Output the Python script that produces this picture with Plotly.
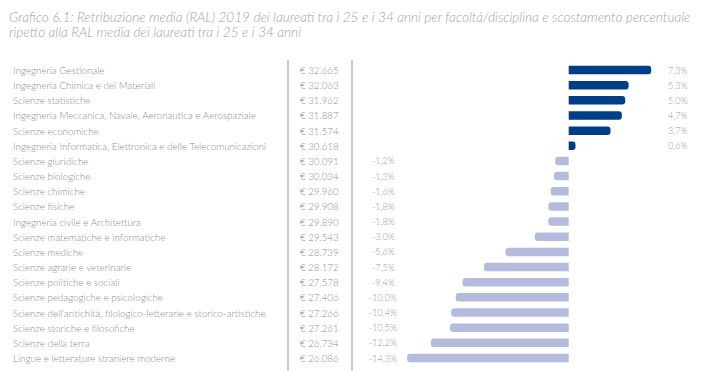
import plotly.graph_objects as go

categories = [
    "Ingegneria Gestionale",
    "Ingegneria Chimica e dei Materiali",
    "Scienze statistiche",
    "Ingegneria Meccanica, Navale, Aeronautica e Aerospaziale",
    "Scienze economiche",
    "Ingegneria Informatica, Elettronica e delle Telecomunicazioni",
    "Scienze giuridiche",
    "Scienze biologiche",
    "Scienze chimiche",
    "Scienze fisiche",
    "Ingegneria civile e Architettura",
    "Scienze matematiche e informatiche",
    "Scienze mediche",
    "Scienze agrarie e veterinarie",
    "Scienze politiche e sociali",
    "Scienze pedagogiche e psicologiche",
    "Scienze dell'antichità, filologico-letterarie e storico-artistiche",
    "Scienze storiche e filosofiche",
    "Scienze della terra",
    "Lingue e letterature straniere moderne",
]
ral_labels = [
    "€ 32.665", "€ 32.063", "€ 31.962", "€ 31.887", "€ 31.574", "€ 30.618",
    "€ 30.091", "€ 30.034", "€ 29.960", "€ 29.908", "€ 29.890", "€ 29.543",
    "€ 28.739", "€ 28.172", "€ 27.578", "€ 27.406", "€ 27.266", "€ 27.261",
    "€ 26.734", "€ 26.086",
]
deviation_pct = [
    7.3, 5.3, 5.0, 4.7, 3.7, 0.6,
    -1.2, -1.3, -1.6, -1.8, -1.8, -3.0,
    -5.6, -7.5, -9.4, -10.0, -10.4, -10.5,
    -12.2, -14.3,
]
title_lines = [
    "Grafico 6.1: Retribuzione media (RAL) 2019 dei laureati tra i 25 e i 34 anni per facoltà/disciplina e scostamento percentuale",
    "ripetto alla RAL media dei laureati tra i 25 e i 34 anni",
]

W, H = 707, 386
FONT = "Lato"
GREY = "#8c8c8c"
POS = "#003f88"
NEG = "#b5bbdc"

colors = [POS if v >= 0 else NEG for v in deviation_pct]
idx = list(range(len(categories)))

fig = go.Figure()
fig.add_trace(go.Bar(
    x=deviation_pct, y=idx, orientation="h",
    marker=dict(color=colors, cornerradius=3, line=dict(width=0)),
    width=0.56, hoverinfo="skip",
))

# percentage labels
for i, v in enumerate(deviation_pct):
    txt = f"{v:.1f}%".replace(".", ",")
    xc = 677 if v >= 0 else 383
    fig.add_annotation(x=xc / W, xref="paper", y=i, yref="y", text=txt,
                       showarrow=False, xanchor="center",
                       font=dict(family=FONT, size=9, color="#999999", weight=300))

# category and RAL columns
for i, (c, r) in enumerate(zip(categories, ral_labels)):
    fig.add_annotation(x=11 / W, xref="paper", y=i, yref="y", text=c,
                       showarrow=False, xanchor="left",
                       font=dict(family=FONT, size=9.8, color=GREY, weight=300))
    fig.add_annotation(x=341 / W, xref="paper", y=i, yref="y", text=r,
                       showarrow=False, xanchor="right",
                       font=dict(family=FONT, size=9.7, color=GREY, weight=300))

# title (two lines)
for k, (line, yc) in enumerate(zip(title_lines, (17, 32))):
    fig.add_annotation(x=7 / W, xref="paper", y=1 - yc / H, yref="paper",
                       text=line, showarrow=False,
                       xanchor="left", yanchor="middle", align="left",
                       font=dict(family=FONT, size=13.6, color="#a3a3a3",
                                 style="italic", weight=300))

# separator lines
for xp in (288, 352):
    fig.add_shape(type="line", xref="paper", yref="paper",
                  x0=xp / W, x1=xp / W, y0=1 - 60 / H, y1=1 - 371 / H,
                  line=dict(color="#b8b8b8", width=1.5))

px_per_unit = 11.3
zero_px = 568.7
x0 = -zero_px / px_per_unit
x1 = (W - zero_px) / px_per_unit

row_px = (358 - 70) / 19
y_top = -70 / row_px
y_bot = 19 + (H - 358) / row_px

fig.update_layout(
    width=W, height=H,
    margin=dict(l=0, r=0, t=0, b=0),
    paper_bgcolor="white", plot_bgcolor="white",
    showlegend=False,
    xaxis=dict(range=[x0, x1], visible=False, fixedrange=True),
    yaxis=dict(range=[y_bot, y_top], visible=False, fixedrange=True),
    bargap=0.4,
)

fig.write_html("out.html")
